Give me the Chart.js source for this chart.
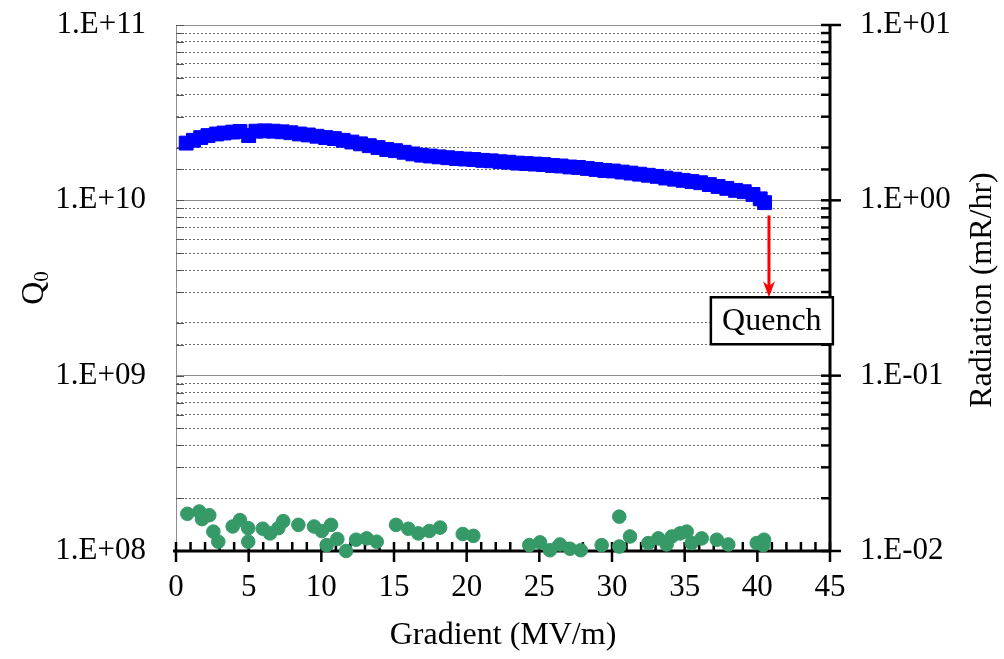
<!DOCTYPE html>
<html>
<head>
<meta charset="utf-8">
<script src="https://cdn.jsdelivr.net/npm/chart.js@4.4.1/dist/chart.umd.min.js"></script>
<style>
  html, body { margin: 0; padding: 0; background: #fff; }
</style>
</head>
<body>
<canvas id="chart" width="1004" height="659"></canvas>
<script>
const FONT = "'Liberation Serif', 'Times New Roman', serif";

// Q0 vs gradient (blue squares, left axis)
const gradientQ = [0.7, 1.2, 1.7, 2.2, 2.8, 3.3, 3.9, 4.4, 5.0, 5.5,
  6.1, 6.7, 7.3, 7.9, 8.5, 9.1, 9.7, 10.3, 10.9, 11.5,
  12.1, 12.7, 13.3, 13.9, 14.5, 15.1, 15.7, 16.3, 16.9, 17.5,
  18.1, 18.7, 19.3, 19.9, 20.5, 21.1, 21.7, 22.3, 22.9, 23.5,
  24.1, 24.7, 25.3, 25.9, 26.5, 27.1, 27.7, 28.3, 28.9, 29.5,
  30.1, 30.7, 31.3, 31.9, 32.5, 33.1, 33.7, 34.3, 34.9, 35.5,
  36.1, 36.7, 37.3, 37.9, 38.5, 39.1, 39.7, 40.2, 40.5];
const q0Values = [2.12e10, 2.20e10, 2.28e10, 2.34e10, 2.39e10, 2.42e10, 2.45e10, 2.47e10, 2.34e10, 2.48e10,
  2.49e10, 2.48e10, 2.46e10, 2.43e10, 2.39e10, 2.36e10, 2.32e10, 2.28e10, 2.25e10, 2.20e10,
  2.15e10, 2.10e10, 2.05e10, 2.00e10, 1.95e10, 1.92e10, 1.88e10, 1.84e10, 1.81e10, 1.79e10,
  1.77e10, 1.75e10, 1.73e10, 1.72e10, 1.71e10, 1.69e10, 1.68e10, 1.66e10, 1.65e10, 1.63e10,
  1.62e10, 1.61e10, 1.60e10, 1.58e10, 1.57e10, 1.55e10, 1.54e10, 1.52e10, 1.50e10, 1.48e10,
  1.47e10, 1.45e10, 1.43e10, 1.41e10, 1.39e10, 1.37e10, 1.34e10, 1.32e10, 1.30e10, 1.28e10,
  1.26e10, 1.23e10, 1.20e10, 1.17e10, 1.14e10, 1.12e10, 1.08e10, 1.02e10, 0.97e10];

// radiation vs gradient (green dots, right axis)
const gradientRad = [0.78, 1.60, 1.79, 2.29, 2.57, 2.91, 3.90, 4.40, 4.97, 4.97,
  5.97, 6.47, 7.04, 7.38, 8.42, 9.50, 10.03, 10.67, 10.37, 11.10,
  11.70, 12.39, 13.12, 13.81, 15.14, 15.98, 16.67, 17.43, 18.17, 19.73,
  20.46, 24.31, 25.05, 25.73, 26.42, 27.11, 27.85, 29.29, 30.50, 30.50,
  31.24, 32.50, 33.19, 33.76, 34.11, 34.68, 35.14, 35.48, 36.17, 37.21,
  38.00, 39.96, 40.46, 40.41];
const radiation = [0.0163, 0.0168, 0.0152, 0.0160, 0.0129, 0.0113, 0.0138, 0.0150, 0.0135, 0.0113,
  0.0134, 0.0126, 0.0135, 0.0148, 0.0141, 0.0138, 0.0130, 0.0141, 0.0108, 0.0117,
  0.0100, 0.0116, 0.0118, 0.0113, 0.0141, 0.0134, 0.0126, 0.0130, 0.0136, 0.0125,
  0.0122, 0.0108, 0.0112, 0.0101, 0.0109, 0.0103, 0.0101, 0.0108, 0.0157, 0.0106,
  0.0121, 0.0111, 0.0118, 0.0109, 0.0121, 0.0126, 0.0129, 0.0111, 0.0118, 0.0116,
  0.0109, 0.0111, 0.0116, 0.0108];

// quench marker
const quenchGradient = 40.8;
const quenchArrowFrom = 8.2e9;
const quenchArrowTo = 2.8e9;
const quenchBoxCenter = 41.0;

function isDecade(v) {
  const e = Math.log10(v);
  return Math.abs(e - Math.round(e)) < 1e-6;
}

function sciLabel(v) {
  if (!isDecade(v)) return '';
  const e = Math.round(Math.log10(v));
  return '1.E' + (e < 0 ? '-' : '+') + String(Math.abs(e)).padStart(2, '0');
}

const axisDecor = {
  id: 'axisDecor',
  beforeDatasetsDraw(chart) {
    const { ctx, chartArea: a, scales: { x, y, y2 } } = chart;
    const line = (x1, y1, x2, y2_) => { ctx.beginPath(); ctx.moveTo(x1, y1); ctx.lineTo(x2, y2_); ctx.stroke(); };
    ctx.save();
    // small ticks on the left axis
    ctx.strokeStyle = '#555';
    ctx.lineWidth = 1;
    y.ticks.forEach(t => {
      const py = Math.round(y.getPixelForValue(t.value)) + 0.5;
      line(a.left, py, a.left + 8, py);
    });
    // right axis
    ctx.strokeStyle = '#000';
    ctx.lineWidth = 3;
    line(a.right, a.top, a.right, a.bottom);
    ctx.lineWidth = 2.5;
    y2.ticks.forEach(t => {
      const py = y2.getPixelForValue(t.value);
      line(a.right - 9, py, isDecade(t.value) ? a.right + 11 : a.right, py);
    });
    // x axis
    ctx.lineWidth = 3;
    line(a.left - 3, a.bottom, a.right, a.bottom);
    ctx.lineWidth = 2.5;
    x.ticks.forEach(t => {
      const px = x.getPixelForValue(t.value);
      line(px, a.bottom - 9, px, t.value % 5 === 0 ? a.bottom + 11 : a.bottom);
    });
    ctx.restore();
  },
  afterDatasetsDraw(chart) {
    const { ctx, scales: { x, y } } = chart;
    const ax = x.getPixelForValue(quenchGradient);
    const y0 = y.getPixelForValue(quenchArrowFrom);
    const y1 = y.getPixelForValue(quenchArrowTo);
    ctx.save();
    ctx.strokeStyle = '#ff0000';
    ctx.fillStyle = '#ff0000';
    ctx.lineWidth = 3;
    ctx.beginPath(); ctx.moveTo(ax, y0); ctx.lineTo(ax, y1 - 10); ctx.stroke();
    ctx.beginPath();
    ctx.moveTo(ax, y1);
    ctx.lineTo(ax - 6, y1 - 16);
    ctx.lineTo(ax, y1 - 11);
    ctx.lineTo(ax + 6, y1 - 16);
    ctx.closePath();
    ctx.fill();

    const bx = x.getPixelForValue(quenchBoxCenter);
    const bw = 122, bh = 47;
    ctx.fillStyle = '#fff';
    ctx.fillRect(bx - bw / 2, y1, bw, bh);
    ctx.strokeStyle = '#000';
    ctx.lineWidth = 2.5;
    ctx.strokeRect(bx - bw / 2, y1, bw, bh);
    ctx.fillStyle = '#000';
    ctx.font = '32px ' + FONT;
    ctx.textAlign = 'center';
    ctx.textBaseline = 'middle';
    ctx.fillText('Quench', bx, y1 + bh / 2 + 1);
    ctx.restore();
  },
  afterDraw(chart) {
    const { ctx, chartArea: a } = chart;
    const midY = (a.top + a.bottom) / 2;
    ctx.save();
    ctx.fillStyle = '#000';
    ctx.textBaseline = 'alphabetic';
    // Q0 title with subscript
    ctx.translate(33, midY);
    ctx.rotate(-Math.PI / 2);
    ctx.font = '32px ' + FONT;
    const wq = ctx.measureText('Q').width;
    ctx.font = '21px ' + FONT;
    const ws = ctx.measureText('0').width;
    const sx = -(wq + ws) / 2;
    ctx.font = '32px ' + FONT;
    ctx.textAlign = 'left';
    ctx.fillText('Q', sx, 10);
    ctx.font = '21px ' + FONT;
    ctx.fillText('0', sx + wq, 15);
    ctx.restore();

    ctx.save();
    ctx.fillStyle = '#000';
    ctx.translate(983, midY + 2);
    ctx.rotate(-Math.PI / 2);
    ctx.font = '32px ' + FONT;
    ctx.textAlign = 'center';
    ctx.textBaseline = 'middle';
    ctx.fillText('Radiation (mR/hr)', 0, 0);
    ctx.restore();
  }
};

const tickFont = { family: FONT, size: 31 };

function fixVertical(width) {
  return s => {
    s.width = width;
    s.paddingTop = 0;
    s.paddingBottom = 0;
  };
}

new Chart(document.getElementById('chart'), {
  type: 'scatter',
  data: {
    datasets: [
      {
        label: 'Q0',
        data: gradientQ.map((g, i) => ({ x: g, y: q0Values[i] })),
        yAxisID: 'y',
        pointStyle: 'rect',
        pointRadius: 9.8,
        pointBorderWidth: 1,
        backgroundColor: '#0000ff',
        borderColor: '#0000ff',
        clip: false,
        order: 1
      },
      {
        label: 'Radiation',
        data: gradientRad.map((g, i) => ({ x: g, y: radiation[i] })),
        yAxisID: 'y2',
        pointStyle: 'circle',
        pointRadius: 6.8,
        pointBorderWidth: 1,
        backgroundColor: '#359a68',
        borderColor: '#359a68',
        clip: false,
        order: 2
      }
    ]
  },
  options: {
    responsive: false,
    animation: false,
    devicePixelRatio: 1,
    layout: { padding: { top: 25, left: 0, right: 0, bottom: 0 } },
    plugins: {
      legend: { display: false },
      tooltip: { enabled: false }
    },
    scales: {
      x: {
        type: 'linear',
        position: 'bottom',
        min: 0,
        max: 45,
        grid: { display: false, drawTicks: false },
        border: { display: false },
        ticks: {
          stepSize: 1,
          autoSkip: false,
          maxRotation: 0,
          padding: 18,
          color: '#000',
          font: tickFont,
          callback: v => (v % 5 === 0 ? String(v) : '')
        },
        title: {
          display: true,
          text: 'Gradient (MV/m)',
          color: '#000',
          font: { family: FONT, size: 32 },
          padding: { top: 0, bottom: 4 }
        },
        afterFit: s => { s.height = 108; }
      },
      y: {
        type: 'logarithmic',
        position: 'left',
        min: 1e8,
        max: 1e11,
        grid: {
          drawTicks: false,
          lineWidth: 1,
          color: c => (isDecade(c.tick.value) ? '#8c8c8c' : '#6e6e6e')
        },
        border: {
          display: true,
          color: '#8c8c8c',
          width: 1,
          dash: c => (c.tick && !isDecade(c.tick.value) ? [2, 2] : [])
        },
        ticks: {
          autoSkip: false,
          padding: 30,
          color: '#000',
          font: tickFont,
          callback: v => sciLabel(v)
        },
        afterFit: fixVertical(176)
      },
      y2: {
        type: 'logarithmic',
        position: 'right',
        min: 0.01,
        max: 10,
        grid: { display: false, drawTicks: false, drawOnChartArea: false },
        border: { display: false },
        ticks: {
          autoSkip: false,
          padding: 30,
          color: '#000',
          font: tickFont,
          callback: v => sciLabel(v)
        },
        afterFit: fixVertical(174)
      }
    }
  },
  plugins: [axisDecor]
});
</script>
</body>
</html>
